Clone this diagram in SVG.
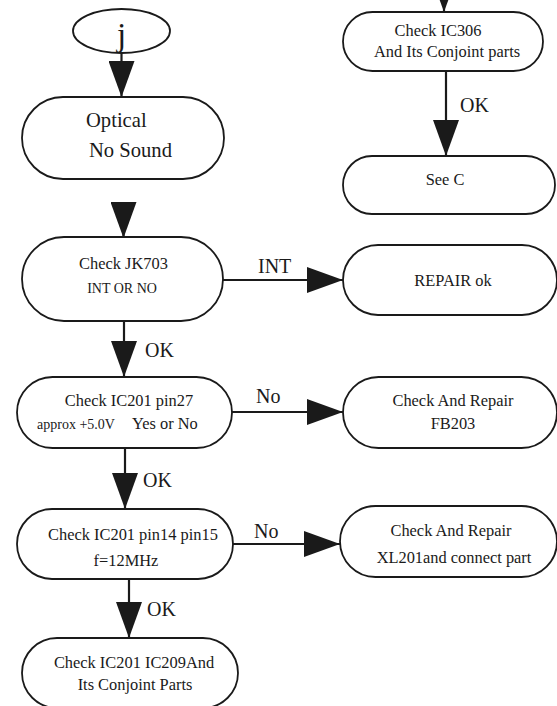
<svg xmlns="http://www.w3.org/2000/svg" width="557" height="706" viewBox="0 0 557 706" font-family="'Liberation Serif', 'DejaVu Serif', serif">
  <style>
    .node { fill: #ffffff; stroke: #1a1a1a; stroke-width: 1.8; }
    .edge { fill: none; stroke: #1a1a1a; stroke-width: 2.2; marker-end: url(#head); }
    text { fill: #1a1a1a; }
    .t { font-size: 16.4px; text-anchor: middle; }
    .s { font-size: 14px; }
    .big { font-size: 20.6px; }
    .lbl { font-size: 20px; }
  </style>
  <defs>
    <marker id="head" markerUnits="userSpaceOnUse" markerWidth="36" markerHeight="26" refX="36" refY="13" orient="auto">
      <path d="M0,0 L36,13 L0,26 Z" fill="#1a1a1a"/>
    </marker>
  </defs>
  <rect width="557" height="706" fill="#ffffff"/>

  <!-- connectors -->
  <g id="connectors">
    <path class="edge" d="M121.5,53 V97"/>
    <path class="edge" d="M123.5,202 V238"/>
    <path class="edge" d="M223,280 H343"/>
    <path class="edge" d="M124,321 V377"/>
    <path class="edge" d="M232,412 H343"/>
    <path class="edge" d="M125,448 V509"/>
    <path class="edge" d="M233,544 H340"/>
    <path class="edge" d="M129,579 V638"/>
    <path class="edge" d="M444,-30 V12"/>
    <path class="edge" d="M446,71 V156"/>
    <text class="lbl" x="258" y="273">INT</text>
    <text class="lbl" x="145" y="357">OK</text>
    <text class="lbl" x="256" y="403">No</text>
    <text class="lbl" x="143" y="487">OK</text>
    <text class="lbl" x="254" y="538">No</text>
    <text class="lbl" x="147" y="616">OK</text>
    <text class="lbl" x="460" y="112">OK</text>
  </g>

  <!-- nodes -->
  <g id="start-j">
    <ellipse class="node" cx="121.5" cy="31" rx="48.5" ry="22"/>
    <text x="121.5" y="46" font-size="33" text-anchor="middle">j</text>
  </g>
  <g id="optical">
    <rect class="node" x="22" y="97" width="202" height="82" rx="41"/>
    <text class="big" x="86" y="127">Optical</text>
    <text class="big" x="89" y="157">No Sound</text>
  </g>
  <g id="check-jk703">
    <rect class="node" x="22" y="237" width="201" height="84" rx="42"/>
    <text class="t" x="123.5" y="269">Check JK703</text>
    <text class="t s" x="122" y="293">INT OR NO</text>
  </g>
  <g id="repair-ok">
    <rect class="node" x="343" y="245" width="214" height="70" rx="35"/>
    <text class="t" x="453" y="286">REPAIR ok</text>
  </g>
  <g id="check-ic201-pin27">
    <rect class="node" x="17" y="377" width="215" height="71" rx="35.5"/>
    <text class="t" x="129" y="406">Check IC201 pin27</text>
    <text x="37" y="429"><tspan class="s">approx +5.0V</tspan><tspan font-size="16.4" x="132">Yes or No</tspan></text>
  </g>
  <g id="repair-fb203">
    <rect class="node" x="343" y="377" width="214" height="71" rx="35.5"/>
    <text class="t" x="453" y="406">Check And Repair</text>
    <text class="t" x="453" y="429">FB203</text>
  </g>
  <g id="check-ic201-pin14">
    <rect class="node" x="17" y="509" width="216" height="70" rx="35"/>
    <text class="t" x="133" y="540">Check IC201 pin14 pin15</text>
    <text class="t" x="126" y="566">f=12MHz</text>
  </g>
  <g id="repair-xl201">
    <rect class="node" x="340" y="506" width="217" height="71" rx="35.5"/>
    <text class="t" x="451" y="536">Check And Repair</text>
    <text class="t" x="454" y="563">XL201and connect part</text>
  </g>
  <g id="check-ic201-ic209">
    <rect class="node" x="22" y="638" width="216" height="70" rx="35"/>
    <text class="t" x="134" y="668">Check IC201 IC209And</text>
    <text class="t" x="135" y="690">Its Conjoint Parts</text>
  </g>
  <g id="check-ic306">
    <rect class="node" x="343" y="12" width="200" height="59" rx="29.5"/>
    <text class="t" x="438" y="36">Check IC306</text>
    <text class="t" x="447" y="57">And Its Conjoint parts</text>
  </g>
  <g id="see-c">
    <rect class="node" x="343" y="156" width="212" height="58" rx="29"/>
    <text class="t" x="445" y="185">See C</text>
  </g>
</svg>
